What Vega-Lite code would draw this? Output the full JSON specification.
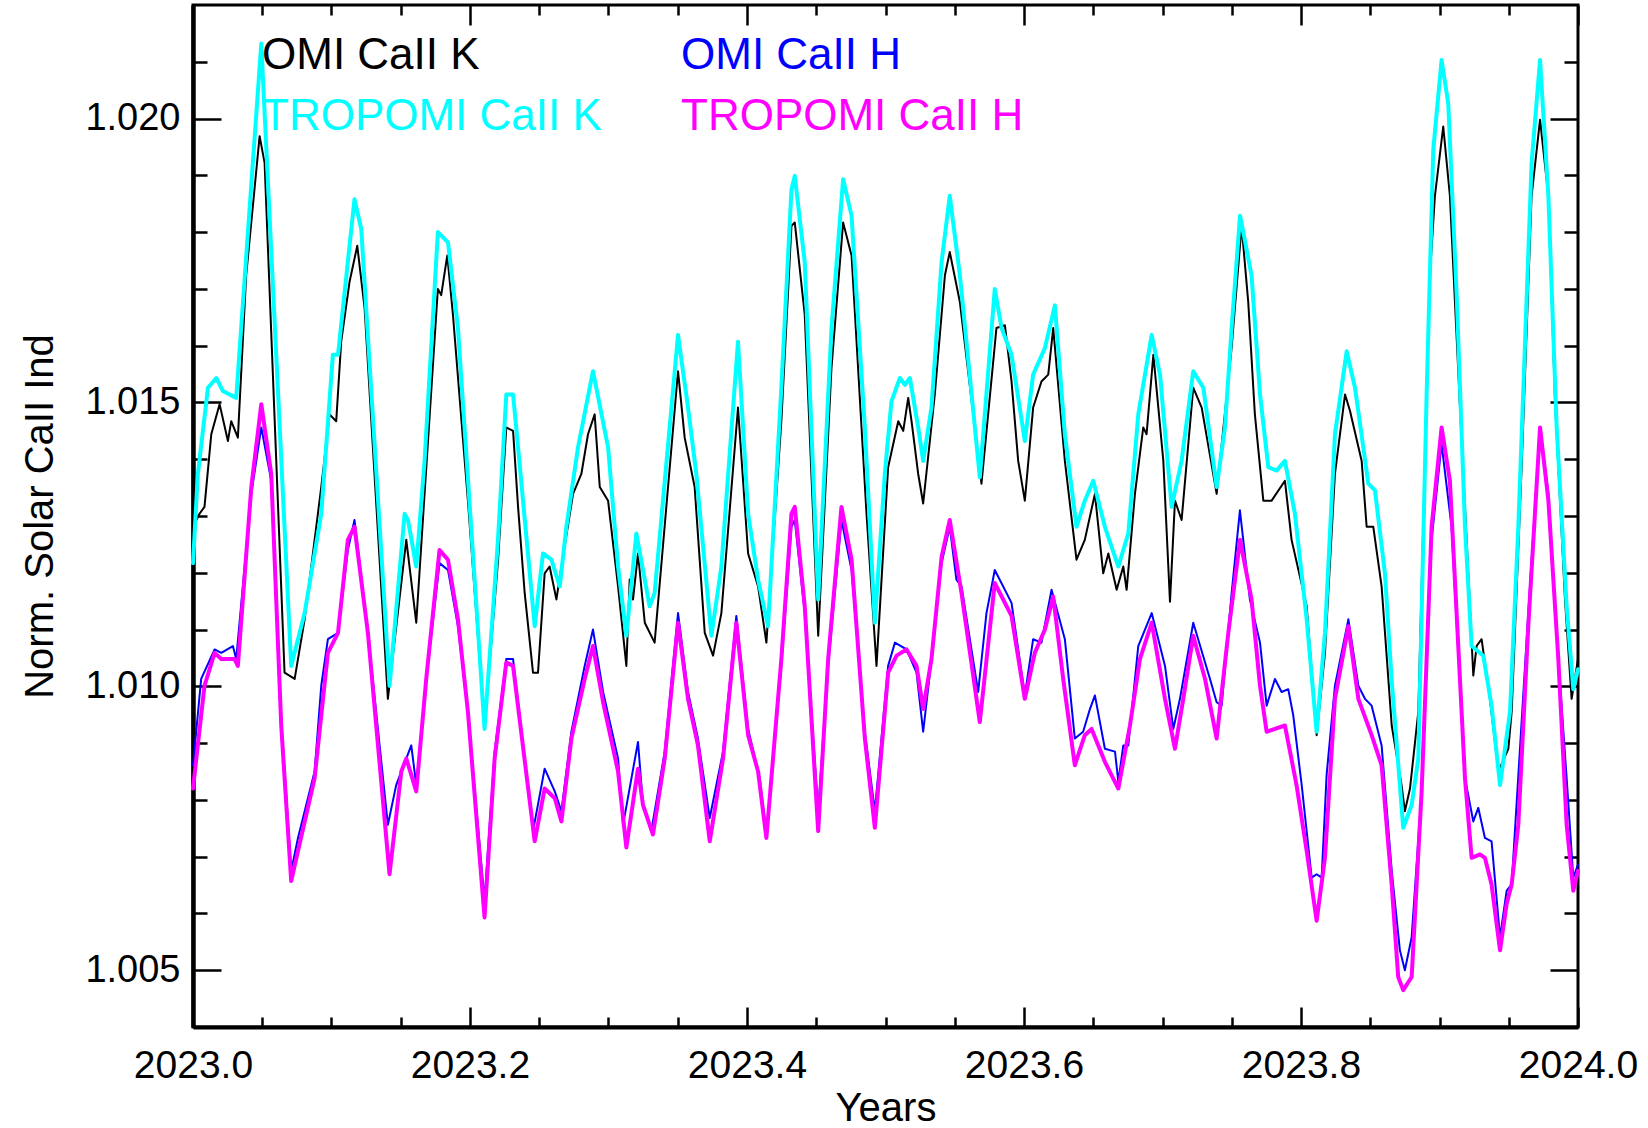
{
  "$schema": "https://vega.github.io/schema/vega-lite/v6.json",
  "autosize": "none",
  "width": 1385,
  "height": 1022,
  "padding": {"left": 193, "top": 5, "right": 70, "bottom": 101},
  "background": "white",
  "config": {
    "view": {"stroke": "black", "strokeWidth": 3},
    "axis": {"grid": false},
    "line": {"strokeJoin": "round", "strokeCap": "round"}
  },
  "datasets": {
    "cak": [
      {"series":"OMI CaII K","year":2023.0000,"value":1.01281},{"series":"OMI CaII K","year":2023.0047,"value":1.01304},{"series":"OMI CaII K","year":2023.0083,"value":1.01316},{"series":"OMI CaII K","year":2023.0132,"value":1.01444},{"series":"OMI CaII K","year":2023.0192,"value":1.01497},{"series":"OMI CaII K","year":2023.0252,"value":1.01432},{"series":"OMI CaII K","year":2023.0276,"value":1.01467},{"series":"OMI CaII K","year":2023.0324,"value":1.01438},{"series":"OMI CaII K","year":2023.0384,"value":1.01724},{"series":"OMI CaII K","year":2023.0481,"value":1.01969},{"series":"OMI CaII K","year":2023.0517,"value":1.01922},{"series":"OMI CaII K","year":2023.0661,"value":1.01024},{"series":"OMI CaII K","year":2023.0734,"value":1.01013},{"series":"OMI CaII K","year":2023.0806,"value":1.01118},{"series":"OMI CaII K","year":2023.0926,"value":1.01351},{"series":"OMI CaII K","year":2023.0986,"value":1.01479},{"series":"OMI CaII K","year":2023.1034,"value":1.01467},{"series":"OMI CaII K","year":2023.1070,"value":1.01607},{"series":"OMI CaII K","year":2023.1130,"value":1.01712},{"series":"OMI CaII K","year":2023.1186,"value":1.01776},{"series":"OMI CaII K","year":2023.1239,"value":1.01666},{"series":"OMI CaII K","year":2023.1407,"value":1.00978},{"series":"OMI CaII K","year":2023.1540,"value":1.01258},{"series":"OMI CaII K","year":2023.1612,"value":1.01112},{"series":"OMI CaII K","year":2023.1672,"value":1.01339},{"series":"OMI CaII K","year":2023.1768,"value":1.01700},{"series":"OMI CaII K","year":2023.1792,"value":1.01689},{"series":"OMI CaII K","year":2023.1836,"value":1.01759},{"series":"OMI CaII K","year":2023.1877,"value":1.01654},{"series":"OMI CaII K","year":2023.1985,"value":1.01327},{"series":"OMI CaII K","year":2023.2105,"value":1.00931},{"series":"OMI CaII K","year":2023.2202,"value":1.01220},{"series":"OMI CaII K","year":2023.2262,"value":1.01456},{"series":"OMI CaII K","year":2023.2311,"value":1.01450},{"series":"OMI CaII K","year":2023.2347,"value":1.01316},{"series":"OMI CaII K","year":2023.2395,"value":1.01164},{"series":"OMI CaII K","year":2023.2455,"value":1.01024},{"series":"OMI CaII K","year":2023.2491,"value":1.01024},{"series":"OMI CaII K","year":2023.2539,"value":1.01199},{"series":"OMI CaII K","year":2023.2575,"value":1.01211},{"series":"OMI CaII K","year":2023.2624,"value":1.01153},{"series":"OMI CaII K","year":2023.2660,"value":1.01211},{"series":"OMI CaII K","year":2023.2744,"value":1.01339},{"series":"OMI CaII K","year":2023.2804,"value":1.01374},{"series":"OMI CaII K","year":2023.2852,"value":1.01444},{"series":"OMI CaII K","year":2023.2900,"value":1.01479},{"series":"OMI CaII K","year":2023.2937,"value":1.01351},{"series":"OMI CaII K","year":2023.2997,"value":1.01327},{"series":"OMI CaII K","year":2023.3069,"value":1.01176},{"series":"OMI CaII K","year":2023.3129,"value":1.01036},{"series":"OMI CaII K","year":2023.3153,"value":1.01188},{"series":"OMI CaII K","year":2023.3177,"value":1.01153},{"series":"OMI CaII K","year":2023.3213,"value":1.01234},{"series":"OMI CaII K","year":2023.3262,"value":1.01112},{"series":"OMI CaII K","year":2023.3333,"value":1.01077},{"series":"OMI CaII K","year":2023.3502,"value":1.01555},{"series":"OMI CaII K","year":2023.3550,"value":1.01438},{"series":"OMI CaII K","year":2023.3622,"value":1.01351},{"series":"OMI CaII K","year":2023.3695,"value":1.01094},{"series":"OMI CaII K","year":2023.3755,"value":1.01054},{"series":"OMI CaII K","year":2023.3815,"value":1.01129},{"series":"OMI CaII K","year":2023.3935,"value":1.01491},{"series":"OMI CaII K","year":2023.4008,"value":1.01234},{"series":"OMI CaII K","year":2023.4080,"value":1.01176},{"series":"OMI CaII K","year":2023.4140,"value":1.01077},{"series":"OMI CaII K","year":2023.4248,"value":1.01467},{"series":"OMI CaII K","year":2023.4321,"value":1.01811},{"series":"OMI CaII K","year":2023.4345,"value":1.01817},{"series":"OMI CaII K","year":2023.4417,"value":1.01654},{"series":"OMI CaII K","year":2023.4514,"value":1.01089},{"series":"OMI CaII K","year":2023.4610,"value":1.01561},{"series":"OMI CaII K","year":2023.4694,"value":1.01817},{"series":"OMI CaII K","year":2023.4755,"value":1.01759},{"series":"OMI CaII K","year":2023.4863,"value":1.01304},{"series":"OMI CaII K","year":2023.4935,"value":1.01036},{"series":"OMI CaII K","year":2023.5019,"value":1.01386},{"series":"OMI CaII K","year":2023.5092,"value":1.01467},{"series":"OMI CaII K","year":2023.5128,"value":1.01450},{"series":"OMI CaII K","year":2023.5164,"value":1.01508},{"series":"OMI CaII K","year":2023.5188,"value":1.01467},{"series":"OMI CaII K","year":2023.5236,"value":1.01374},{"series":"OMI CaII K","year":2023.5272,"value":1.01322},{"series":"OMI CaII K","year":2023.5356,"value":1.01514},{"series":"OMI CaII K","year":2023.5429,"value":1.01724},{"series":"OMI CaII K","year":2023.5464,"value":1.01765},{"series":"OMI CaII K","year":2023.5537,"value":1.01677},{"series":"OMI CaII K","year":2023.5693,"value":1.01357},{"series":"OMI CaII K","year":2023.5801,"value":1.01631},{"series":"OMI CaII K","year":2023.5862,"value":1.01636},{"series":"OMI CaII K","year":2023.5910,"value":1.01537},{"series":"OMI CaII K","year":2023.5958,"value":1.01397},{"series":"OMI CaII K","year":2023.6006,"value":1.01327},{"series":"OMI CaII K","year":2023.6066,"value":1.01491},{"series":"OMI CaII K","year":2023.6126,"value":1.01537},{"series":"OMI CaII K","year":2023.6175,"value":1.01549},{"series":"OMI CaII K","year":2023.6211,"value":1.01631},{"series":"OMI CaII K","year":2023.6295,"value":1.01397},{"series":"OMI CaII K","year":2023.6379,"value":1.01223},{"series":"OMI CaII K","year":2023.6439,"value":1.01258},{"series":"OMI CaII K","year":2023.6512,"value":1.01339},{"series":"OMI CaII K","year":2023.6572,"value":1.01199},{"series":"OMI CaII K","year":2023.6609,"value":1.01234},{"series":"OMI CaII K","year":2023.6669,"value":1.01170},{"series":"OMI CaII K","year":2023.6717,"value":1.01211},{"series":"OMI CaII K","year":2023.6741,"value":1.01170},{"series":"OMI CaII K","year":2023.6801,"value":1.01339},{"series":"OMI CaII K","year":2023.6861,"value":1.01456},{"series":"OMI CaII K","year":2023.6885,"value":1.01444},{"series":"OMI CaII K","year":2023.6934,"value":1.01584},{"series":"OMI CaII K","year":2023.7006,"value":1.01397},{"series":"OMI CaII K","year":2023.7054,"value":1.01149},{"series":"OMI CaII K","year":2023.7090,"value":1.01327},{"series":"OMI CaII K","year":2023.7138,"value":1.01293},{"series":"OMI CaII K","year":2023.7222,"value":1.01526},{"series":"OMI CaII K","year":2023.7283,"value":1.01491},{"series":"OMI CaII K","year":2023.7391,"value":1.01339},{"series":"OMI CaII K","year":2023.7499,"value":1.01596},{"series":"OMI CaII K","year":2023.7571,"value":1.01811},{"series":"OMI CaII K","year":2023.7619,"value":1.01677},{"series":"OMI CaII K","year":2023.7667,"value":1.01479},{"series":"OMI CaII K","year":2023.7728,"value":1.01327},{"series":"OMI CaII K","year":2023.7788,"value":1.01327},{"series":"OMI CaII K","year":2023.7884,"value":1.01362},{"series":"OMI CaII K","year":2023.7932,"value":1.01258},{"series":"OMI CaII K","year":2023.8041,"value":1.01141},{"series":"OMI CaII K","year":2023.8113,"value":1.00914},{"series":"OMI CaII K","year":2023.8173,"value":1.01059},{"series":"OMI CaII K","year":2023.8245,"value":1.01374},{"series":"OMI CaII K","year":2023.8318,"value":1.01514},{"series":"OMI CaII K","year":2023.8354,"value":1.01485},{"series":"OMI CaII K","year":2023.8438,"value":1.01397},{"series":"OMI CaII K","year":2023.8474,"value":1.01281},{"series":"OMI CaII K","year":2023.8522,"value":1.01281},{"series":"OMI CaII K","year":2023.8582,"value":1.01176},{"series":"OMI CaII K","year":2023.8655,"value":1.00931},{"series":"OMI CaII K","year":2023.8726,"value":1.00826},{"series":"OMI CaII K","year":2023.8750,"value":1.00780},{"series":"OMI CaII K","year":2023.8787,"value":1.00820},{"series":"OMI CaII K","year":2023.8847,"value":1.00955},{"series":"OMI CaII K","year":2023.8931,"value":1.01726},{"series":"OMI CaII K","year":2023.8967,"value":1.01864},{"series":"OMI CaII K","year":2023.9027,"value":1.01986},{"series":"OMI CaII K","year":2023.9075,"value":1.01864},{"series":"OMI CaII K","year":2023.9148,"value":1.01491},{"series":"OMI CaII K","year":2023.9208,"value":1.01199},{"series":"OMI CaII K","year":2023.9244,"value":1.01019},{"series":"OMI CaII K","year":2023.9268,"value":1.01071},{"series":"OMI CaII K","year":2023.9304,"value":1.01083},{"series":"OMI CaII K","year":2023.9364,"value":1.00978},{"series":"OMI CaII K","year":2023.9425,"value":1.00850},{"series":"OMI CaII K","year":2023.9497,"value":1.00890},{"series":"OMI CaII K","year":2023.9521,"value":1.00955},{"series":"OMI CaII K","year":2023.9593,"value":1.01386},{"series":"OMI CaII K","year":2023.9665,"value":1.01864},{"series":"OMI CaII K","year":2023.9726,"value":1.01998},{"series":"OMI CaII K","year":2023.9786,"value":1.01864},{"series":"OMI CaII K","year":2023.9834,"value":1.01503},{"series":"OMI CaII K","year":2023.9906,"value":1.01153},{"series":"OMI CaII K","year":2023.9954,"value":1.00978},{"series":"OMI CaII K","year":2024.0000,"value":1.01048},

      {"series":"TROPOMI CaII K","year":2023.0000,"value":1.01217},{"series":"TROPOMI CaII K","year":2023.0035,"value":1.01374},{"series":"TROPOMI CaII K","year":2023.0108,"value":1.01526},{"series":"TROPOMI CaII K","year":2023.0168,"value":1.01543},{"series":"TROPOMI CaII K","year":2023.0216,"value":1.01520},{"series":"TROPOMI CaII K","year":2023.0312,"value":1.01508},{"series":"TROPOMI CaII K","year":2023.0493,"value":1.02132},{"series":"TROPOMI CaII K","year":2023.0709,"value":1.01036},{"series":"TROPOMI CaII K","year":2023.0806,"value":1.01129},{"series":"TROPOMI CaII K","year":2023.0926,"value":1.01304},{"series":"TROPOMI CaII K","year":2023.1010,"value":1.01584},{"series":"TROPOMI CaII K","year":2023.1047,"value":1.01584},{"series":"TROPOMI CaII K","year":2023.1166,"value":1.01858},{"series":"TROPOMI CaII K","year":2023.1215,"value":1.01805},{"series":"TROPOMI CaII K","year":2023.1419,"value":1.01001},{"series":"TROPOMI CaII K","year":2023.1528,"value":1.01304},{"series":"TROPOMI CaII K","year":2023.1552,"value":1.01293},{"series":"TROPOMI CaII K","year":2023.1612,"value":1.01211},{"series":"TROPOMI CaII K","year":2023.1672,"value":1.01397},{"series":"TROPOMI CaII K","year":2023.1768,"value":1.01800},{"series":"TROPOMI CaII K","year":2023.1841,"value":1.01782},{"series":"TROPOMI CaII K","year":2023.1913,"value":1.01631},{"series":"TROPOMI CaII K","year":2023.2105,"value":1.00925},{"series":"TROPOMI CaII K","year":2023.2202,"value":1.01258},{"series":"TROPOMI CaII K","year":2023.2262,"value":1.01514},{"series":"TROPOMI CaII K","year":2023.2311,"value":1.01514},{"series":"TROPOMI CaII K","year":2023.2347,"value":1.01421},{"series":"TROPOMI CaII K","year":2023.2467,"value":1.01106},{"series":"TROPOMI CaII K","year":2023.2527,"value":1.01234},{"series":"TROPOMI CaII K","year":2023.2588,"value":1.01223},{"series":"TROPOMI CaII K","year":2023.2648,"value":1.01176},{"series":"TROPOMI CaII K","year":2023.2696,"value":1.01281},{"series":"TROPOMI CaII K","year":2023.2780,"value":1.01421},{"series":"TROPOMI CaII K","year":2023.2888,"value":1.01555},{"series":"TROPOMI CaII K","year":2023.2997,"value":1.01421},{"series":"TROPOMI CaII K","year":2023.3069,"value":1.01211},{"series":"TROPOMI CaII K","year":2023.3129,"value":1.01089},{"series":"TROPOMI CaII K","year":2023.3201,"value":1.01269},{"series":"TROPOMI CaII K","year":2023.3297,"value":1.01141},{"series":"TROPOMI CaII K","year":2023.3333,"value":1.01164},{"series":"TROPOMI CaII K","year":2023.3502,"value":1.01619},{"series":"TROPOMI CaII K","year":2023.3574,"value":1.01491},{"series":"TROPOMI CaII K","year":2023.3634,"value":1.01374},{"series":"TROPOMI CaII K","year":2023.3743,"value":1.01089},{"series":"TROPOMI CaII K","year":2023.3815,"value":1.01211},{"series":"TROPOMI CaII K","year":2023.3935,"value":1.01607},{"series":"TROPOMI CaII K","year":2023.4008,"value":1.01304},{"series":"TROPOMI CaII K","year":2023.4080,"value":1.01188},{"series":"TROPOMI CaII K","year":2023.4152,"value":1.01106},{"series":"TROPOMI CaII K","year":2023.4248,"value":1.01526},{"series":"TROPOMI CaII K","year":2023.4321,"value":1.01875},{"series":"TROPOMI CaII K","year":2023.4345,"value":1.01899},{"series":"TROPOMI CaII K","year":2023.4417,"value":1.01747},{"series":"TROPOMI CaII K","year":2023.4514,"value":1.01153},{"series":"TROPOMI CaII K","year":2023.4610,"value":1.01631},{"series":"TROPOMI CaII K","year":2023.4694,"value":1.01893},{"series":"TROPOMI CaII K","year":2023.4755,"value":1.01829},{"series":"TROPOMI CaII K","year":2023.4851,"value":1.01456},{"series":"TROPOMI CaII K","year":2023.4923,"value":1.01112},{"series":"TROPOMI CaII K","year":2023.4995,"value":1.01374},{"series":"TROPOMI CaII K","year":2023.5043,"value":1.01502},{"series":"TROPOMI CaII K","year":2023.5104,"value":1.01543},{"series":"TROPOMI CaII K","year":2023.5140,"value":1.01531},{"series":"TROPOMI CaII K","year":2023.5176,"value":1.01543},{"series":"TROPOMI CaII K","year":2023.5236,"value":1.01456},{"series":"TROPOMI CaII K","year":2023.5272,"value":1.01397},{"series":"TROPOMI CaII K","year":2023.5332,"value":1.01491},{"series":"TROPOMI CaII K","year":2023.5405,"value":1.01747},{"series":"TROPOMI CaII K","year":2023.5464,"value":1.01864},{"series":"TROPOMI CaII K","year":2023.5537,"value":1.01724},{"series":"TROPOMI CaII K","year":2023.5681,"value":1.01368},{"series":"TROPOMI CaII K","year":2023.5789,"value":1.01700},{"series":"TROPOMI CaII K","year":2023.5838,"value":1.01631},{"series":"TROPOMI CaII K","year":2023.5910,"value":1.01584},{"series":"TROPOMI CaII K","year":2023.6006,"value":1.01432},{"series":"TROPOMI CaII K","year":2023.6066,"value":1.01549},{"series":"TROPOMI CaII K","year":2023.6151,"value":1.01596},{"series":"TROPOMI CaII K","year":2023.6223,"value":1.01671},{"series":"TROPOMI CaII K","year":2023.6295,"value":1.01444},{"series":"TROPOMI CaII K","year":2023.6379,"value":1.01281},{"series":"TROPOMI CaII K","year":2023.6439,"value":1.01327},{"series":"TROPOMI CaII K","year":2023.6500,"value":1.01362},{"series":"TROPOMI CaII K","year":2023.6584,"value":1.01281},{"series":"TROPOMI CaII K","year":2023.6681,"value":1.01211},{"series":"TROPOMI CaII K","year":2023.6753,"value":1.01269},{"series":"TROPOMI CaII K","year":2023.6825,"value":1.01479},{"series":"TROPOMI CaII K","year":2023.6922,"value":1.01619},{"series":"TROPOMI CaII K","year":2023.6982,"value":1.01549},{"series":"TROPOMI CaII K","year":2023.7066,"value":1.01316},{"series":"TROPOMI CaII K","year":2023.7138,"value":1.01397},{"series":"TROPOMI CaII K","year":2023.7222,"value":1.01555},{"series":"TROPOMI CaII K","year":2023.7295,"value":1.01526},{"series":"TROPOMI CaII K","year":2023.7391,"value":1.01351},{"series":"TROPOMI CaII K","year":2023.7451,"value":1.01456},{"series":"TROPOMI CaII K","year":2023.7499,"value":1.01631},{"series":"TROPOMI CaII K","year":2023.7560,"value":1.01829},{"series":"TROPOMI CaII K","year":2023.7643,"value":1.01724},{"series":"TROPOMI CaII K","year":2023.7704,"value":1.01514},{"series":"TROPOMI CaII K","year":2023.7764,"value":1.01386},{"series":"TROPOMI CaII K","year":2023.7824,"value":1.01380},{"series":"TROPOMI CaII K","year":2023.7884,"value":1.01397},{"series":"TROPOMI CaII K","year":2023.7956,"value":1.01304},{"series":"TROPOMI CaII K","year":2023.8041,"value":1.01118},{"series":"TROPOMI CaII K","year":2023.8113,"value":1.00920},{"series":"TROPOMI CaII K","year":2023.8173,"value":1.01094},{"series":"TROPOMI CaII K","year":2023.8245,"value":1.01444},{"series":"TROPOMI CaII K","year":2023.8330,"value":1.01590},{"series":"TROPOMI CaII K","year":2023.8390,"value":1.01526},{"series":"TROPOMI CaII K","year":2023.8486,"value":1.01357},{"series":"TROPOMI CaII K","year":2023.8534,"value":1.01345},{"series":"TROPOMI CaII K","year":2023.8606,"value":1.01199},{"series":"TROPOMI CaII K","year":2023.8654,"value":1.01013},{"series":"TROPOMI CaII K","year":2023.8738,"value":1.00751},{"series":"TROPOMI CaII K","year":2023.8799,"value":1.00791},{"series":"TROPOMI CaII K","year":2023.8847,"value":1.00873},{"series":"TROPOMI CaII K","year":2023.8907,"value":1.01514},{"series":"TROPOMI CaII K","year":2023.8955,"value":1.01945},{"series":"TROPOMI CaII K","year":2023.9015,"value":1.02103},{"series":"TROPOMI CaII K","year":2023.9063,"value":1.02027},{"series":"TROPOMI CaII K","year":2023.9124,"value":1.01689},{"series":"TROPOMI CaII K","year":2023.9184,"value":1.01281},{"series":"TROPOMI CaII K","year":2023.9232,"value":1.01071},{"series":"TROPOMI CaII K","year":2023.9316,"value":1.01054},{"series":"TROPOMI CaII K","year":2023.9376,"value":1.00966},{"series":"TROPOMI CaII K","year":2023.9437,"value":1.00826},{"series":"TROPOMI CaII K","year":2023.9509,"value":1.00955},{"series":"TROPOMI CaII K","year":2023.9569,"value":1.01281},{"series":"TROPOMI CaII K","year":2023.9665,"value":1.01922},{"series":"TROPOMI CaII K","year":2023.9726,"value":1.02103},{"series":"TROPOMI CaII K","year":2023.9786,"value":1.01864},{"series":"TROPOMI CaII K","year":2023.9846,"value":1.01456},{"series":"TROPOMI CaII K","year":2023.9918,"value":1.01141},{"series":"TROPOMI CaII K","year":2023.9966,"value":1.00995},{"series":"TROPOMI CaII K","year":2024.0000,"value":1.01030},

      {"series":"OMI CaII H","year":2023.0000,"value":1.00861},{"series":"OMI CaII H","year":2023.0059,"value":1.01013},{"series":"OMI CaII H","year":2023.0156,"value":1.01065},{"series":"OMI CaII H","year":2023.0204,"value":1.01059},{"series":"OMI CaII H","year":2023.0288,"value":1.01071},{"series":"OMI CaII H","year":2023.0312,"value":1.01048},{"series":"OMI CaII H","year":2023.0421,"value":1.01339},{"series":"OMI CaII H","year":2023.0493,"value":1.01456},{"series":"OMI CaII H","year":2023.0565,"value":1.01362},{"series":"OMI CaII H","year":2023.0637,"value":1.00943},{"series":"OMI CaII H","year":2023.0709,"value":1.00675},{"series":"OMI CaII H","year":2023.0758,"value":1.00733},{"series":"OMI CaII H","year":2023.0878,"value":1.00850},{"series":"OMI CaII H","year":2023.0926,"value":1.01001},{"series":"OMI CaII H","year":2023.0974,"value":1.01083},{"series":"OMI CaII H","year":2023.1047,"value":1.01094},{"series":"OMI CaII H","year":2023.1118,"value":1.01240},{"series":"OMI CaII H","year":2023.1166,"value":1.01293},{"series":"OMI CaII H","year":2023.1263,"value":1.01094},{"series":"OMI CaII H","year":2023.1407,"value":1.00756},{"series":"OMI CaII H","year":2023.1467,"value":1.00826},{"series":"OMI CaII H","year":2023.1576,"value":1.00896},{"series":"OMI CaII H","year":2023.1612,"value":1.00826},{"series":"OMI CaII H","year":2023.1684,"value":1.01013},{"series":"OMI CaII H","year":2023.1780,"value":1.01217},{"series":"OMI CaII H","year":2023.1841,"value":1.01205},{"series":"OMI CaII H","year":2023.1913,"value":1.01106},{"series":"OMI CaII H","year":2023.1985,"value":1.00955},{"series":"OMI CaII H","year":2023.2105,"value":1.00622},{"series":"OMI CaII H","year":2023.2178,"value":1.00885},{"series":"OMI CaII H","year":2023.2262,"value":1.01048},{"series":"OMI CaII H","year":2023.2311,"value":1.01048},{"series":"OMI CaII H","year":2023.2455,"value":1.00745},{"series":"OMI CaII H","year":2023.2539,"value":1.00855},{"series":"OMI CaII H","year":2023.2612,"value":1.00815},{"series":"OMI CaII H","year":2023.2660,"value":1.00780},{"series":"OMI CaII H","year":2023.2732,"value":1.00920},{"series":"OMI CaII H","year":2023.2828,"value":1.01036},{"series":"OMI CaII H","year":2023.2888,"value":1.01100},{"series":"OMI CaII H","year":2023.2961,"value":1.00990},{"series":"OMI CaII H","year":2023.3069,"value":1.00873},{"series":"OMI CaII H","year":2023.3105,"value":1.00756},{"series":"OMI CaII H","year":2023.3213,"value":1.00902},{"series":"OMI CaII H","year":2023.3249,"value":1.00791},{"series":"OMI CaII H","year":2023.3309,"value":1.00745},{"series":"OMI CaII H","year":2023.3406,"value":1.00885},{"series":"OMI CaII H","year":2023.3502,"value":1.01129},{"series":"OMI CaII H","year":2023.3574,"value":1.00990},{"series":"OMI CaII H","year":2023.3646,"value":1.00908},{"series":"OMI CaII H","year":2023.3731,"value":1.00768},{"series":"OMI CaII H","year":2023.3827,"value":1.00885},{"series":"OMI CaII H","year":2023.3923,"value":1.01124},{"series":"OMI CaII H","year":2023.4008,"value":1.00925},{"series":"OMI CaII H","year":2023.4092,"value":1.00838},{"series":"OMI CaII H","year":2023.4140,"value":1.00739},{"series":"OMI CaII H","year":2023.4248,"value":1.01036},{"series":"OMI CaII H","year":2023.4321,"value":1.01281},{"series":"OMI CaII H","year":2023.4345,"value":1.01293},{"series":"OMI CaII H","year":2023.4417,"value":1.01130},{"series":"OMI CaII H","year":2023.4514,"value":1.00780},{"series":"OMI CaII H","year":2023.4586,"value":1.01036},{"series":"OMI CaII H","year":2023.4682,"value":1.01293},{"series":"OMI CaII H","year":2023.4755,"value":1.01205},{"series":"OMI CaII H","year":2023.4851,"value":1.00920},{"series":"OMI CaII H","year":2023.4923,"value":1.00780},{"series":"OMI CaII H","year":2023.5019,"value":1.01036},{"series":"OMI CaII H","year":2023.5068,"value":1.01077},{"series":"OMI CaII H","year":2023.5152,"value":1.01065},{"series":"OMI CaII H","year":2023.5224,"value":1.01024},{"series":"OMI CaII H","year":2023.5272,"value":1.00920},{"series":"OMI CaII H","year":2023.5332,"value":1.01048},{"series":"OMI CaII H","year":2023.5405,"value":1.01217},{"series":"OMI CaII H","year":2023.5464,"value":1.01281},{"series":"OMI CaII H","year":2023.5512,"value":1.01188},{"series":"OMI CaII H","year":2023.5549,"value":1.01176},{"series":"OMI CaII H","year":2023.5669,"value":1.00990},{"series":"OMI CaII H","year":2023.5729,"value":1.01129},{"series":"OMI CaII H","year":2023.5789,"value":1.01205},{"series":"OMI CaII H","year":2023.5910,"value":1.01147},{"series":"OMI CaII H","year":2023.6006,"value":1.00984},{"series":"OMI CaII H","year":2023.6066,"value":1.01083},{"series":"OMI CaII H","year":2023.6126,"value":1.01077},{"series":"OMI CaII H","year":2023.6199,"value":1.01170},{"series":"OMI CaII H","year":2023.6295,"value":1.01083},{"series":"OMI CaII H","year":2023.6367,"value":1.00908},{"series":"OMI CaII H","year":2023.6427,"value":1.00920},{"series":"OMI CaII H","year":2023.6476,"value":1.00960},{"series":"OMI CaII H","year":2023.6512,"value":1.00984},{"series":"OMI CaII H","year":2023.6584,"value":1.00890},{"series":"OMI CaII H","year":2023.6657,"value":1.00885},{"series":"OMI CaII H","year":2023.6681,"value":1.00832},{"series":"OMI CaII H","year":2023.6717,"value":1.00896},{"series":"OMI CaII H","year":2023.6753,"value":1.00896},{"series":"OMI CaII H","year":2023.6825,"value":1.01071},{"series":"OMI CaII H","year":2023.6922,"value":1.01129},{"series":"OMI CaII H","year":2023.7018,"value":1.01036},{"series":"OMI CaII H","year":2023.7078,"value":1.00925},{"series":"OMI CaII H","year":2023.7126,"value":1.00978},{"series":"OMI CaII H","year":2023.7222,"value":1.01112},{"series":"OMI CaII H","year":2023.7343,"value":1.01013},{"series":"OMI CaII H","year":2023.7391,"value":1.00972},{"series":"OMI CaII H","year":2023.7427,"value":1.00966},{"series":"OMI CaII H","year":2023.7499,"value":1.01164},{"series":"OMI CaII H","year":2023.7559,"value":1.01310},{"series":"OMI CaII H","year":2023.7631,"value":1.01153},{"series":"OMI CaII H","year":2023.7704,"value":1.01077},{"series":"OMI CaII H","year":2023.7752,"value":1.00966},{"series":"OMI CaII H","year":2023.7812,"value":1.01013},{"series":"OMI CaII H","year":2023.7860,"value":1.00990},{"series":"OMI CaII H","year":2023.7908,"value":1.00995},{"series":"OMI CaII H","year":2023.7944,"value":1.00949},{"series":"OMI CaII H","year":2023.8005,"value":1.00826},{"series":"OMI CaII H","year":2023.8077,"value":1.00663},{"series":"OMI CaII H","year":2023.8113,"value":1.00669},{"series":"OMI CaII H","year":2023.8149,"value":1.00663},{"series":"OMI CaII H","year":2023.8185,"value":1.00844},{"series":"OMI CaII H","year":2023.8245,"value":1.01001},{"series":"OMI CaII H","year":2023.8342,"value":1.01118},{"series":"OMI CaII H","year":2023.8414,"value":1.01001},{"series":"OMI CaII H","year":2023.8462,"value":1.00978},{"series":"OMI CaII H","year":2023.8510,"value":1.00966},{"series":"OMI CaII H","year":2023.8582,"value":1.00896},{"series":"OMI CaII H","year":2023.8655,"value":1.00675},{"series":"OMI CaII H","year":2023.8714,"value":1.00535},{"series":"OMI CaII H","year":2023.8750,"value":1.00500},{"series":"OMI CaII H","year":2023.8799,"value":1.00558},{"series":"OMI CaII H","year":2023.8871,"value":1.00815},{"series":"OMI CaII H","year":2023.8943,"value":1.01258},{"series":"OMI CaII H","year":2023.9015,"value":1.01427},{"series":"OMI CaII H","year":2023.9087,"value":1.01281},{"series":"OMI CaII H","year":2023.9184,"value":1.00838},{"series":"OMI CaII H","year":2023.9244,"value":1.00762},{"series":"OMI CaII H","year":2023.9280,"value":1.00786},{"series":"OMI CaII H","year":2023.9328,"value":1.00733},{"series":"OMI CaII H","year":2023.9376,"value":1.00727},{"series":"OMI CaII H","year":2023.9437,"value":1.00558},{"series":"OMI CaII H","year":2023.9485,"value":1.00640},{"series":"OMI CaII H","year":2023.9521,"value":1.00651},{"series":"OMI CaII H","year":2023.9641,"value":1.01129},{"series":"OMI CaII H","year":2023.9726,"value":1.01456},{"series":"OMI CaII H","year":2023.9786,"value":1.01340},{"series":"OMI CaII H","year":2023.9858,"value":1.01048},{"series":"OMI CaII H","year":2023.9918,"value":1.00838},{"series":"OMI CaII H","year":2023.9966,"value":1.00663},{"series":"OMI CaII H","year":2024.0000,"value":1.00686},

      {"series":"TROPOMI CaII H","year":2023.0000,"value":1.00820},{"series":"TROPOMI CaII H","year":2023.0083,"value":1.01001},{"series":"TROPOMI CaII H","year":2023.0156,"value":1.01059},{"series":"TROPOMI CaII H","year":2023.0204,"value":1.01048},{"series":"TROPOMI CaII H","year":2023.0300,"value":1.01048},{"series":"TROPOMI CaII H","year":2023.0324,"value":1.01036},{"series":"TROPOMI CaII H","year":2023.0421,"value":1.01351},{"series":"TROPOMI CaII H","year":2023.0493,"value":1.01497},{"series":"TROPOMI CaII H","year":2023.0565,"value":1.01374},{"series":"TROPOMI CaII H","year":2023.0637,"value":1.00931},{"series":"TROPOMI CaII H","year":2023.0709,"value":1.00657},{"series":"TROPOMI CaII H","year":2023.0758,"value":1.00710},{"series":"TROPOMI CaII H","year":2023.0878,"value":1.00838},{"series":"TROPOMI CaII H","year":2023.0974,"value":1.01059},{"series":"TROPOMI CaII H","year":2023.1047,"value":1.01094},{"series":"TROPOMI CaII H","year":2023.1118,"value":1.01258},{"series":"TROPOMI CaII H","year":2023.1166,"value":1.01281},{"series":"TROPOMI CaII H","year":2023.1263,"value":1.01094},{"series":"TROPOMI CaII H","year":2023.1419,"value":1.00669},{"series":"TROPOMI CaII H","year":2023.1504,"value":1.00850},{"series":"TROPOMI CaII H","year":2023.1540,"value":1.00873},{"series":"TROPOMI CaII H","year":2023.1612,"value":1.00815},{"series":"TROPOMI CaII H","year":2023.1684,"value":1.01013},{"series":"TROPOMI CaII H","year":2023.1780,"value":1.01240},{"series":"TROPOMI CaII H","year":2023.1841,"value":1.01223},{"series":"TROPOMI CaII H","year":2023.1913,"value":1.01118},{"series":"TROPOMI CaII H","year":2023.1985,"value":1.00955},{"series":"TROPOMI CaII H","year":2023.2105,"value":1.00593},{"series":"TROPOMI CaII H","year":2023.2178,"value":1.00873},{"series":"TROPOMI CaII H","year":2023.2262,"value":1.01042},{"series":"TROPOMI CaII H","year":2023.2311,"value":1.01036},{"series":"TROPOMI CaII H","year":2023.2467,"value":1.00727},{"series":"TROPOMI CaII H","year":2023.2539,"value":1.00820},{"series":"TROPOMI CaII H","year":2023.2612,"value":1.00803},{"series":"TROPOMI CaII H","year":2023.2660,"value":1.00762},{"series":"TROPOMI CaII H","year":2023.2732,"value":1.00908},{"series":"TROPOMI CaII H","year":2023.2828,"value":1.01013},{"series":"TROPOMI CaII H","year":2023.2888,"value":1.01071},{"series":"TROPOMI CaII H","year":2023.2961,"value":1.00972},{"series":"TROPOMI CaII H","year":2023.3069,"value":1.00850},{"series":"TROPOMI CaII H","year":2023.3129,"value":1.00716},{"series":"TROPOMI CaII H","year":2023.3213,"value":1.00855},{"series":"TROPOMI CaII H","year":2023.3249,"value":1.00791},{"series":"TROPOMI CaII H","year":2023.3321,"value":1.00739},{"series":"TROPOMI CaII H","year":2023.3406,"value":1.00873},{"series":"TROPOMI CaII H","year":2023.3502,"value":1.01112},{"series":"TROPOMI CaII H","year":2023.3574,"value":1.00978},{"series":"TROPOMI CaII H","year":2023.3646,"value":1.00896},{"series":"TROPOMI CaII H","year":2023.3731,"value":1.00727},{"series":"TROPOMI CaII H","year":2023.3827,"value":1.00873},{"series":"TROPOMI CaII H","year":2023.3923,"value":1.01112},{"series":"TROPOMI CaII H","year":2023.4008,"value":1.00914},{"series":"TROPOMI CaII H","year":2023.4080,"value":1.00850},{"series":"TROPOMI CaII H","year":2023.4140,"value":1.00733},{"series":"TROPOMI CaII H","year":2023.4248,"value":1.01048},{"series":"TROPOMI CaII H","year":2023.4321,"value":1.01304},{"series":"TROPOMI CaII H","year":2023.4345,"value":1.01316},{"series":"TROPOMI CaII H","year":2023.4417,"value":1.01141},{"series":"TROPOMI CaII H","year":2023.4514,"value":1.00745},{"series":"TROPOMI CaII H","year":2023.4586,"value":1.01048},{"series":"TROPOMI CaII H","year":2023.4682,"value":1.01316},{"series":"TROPOMI CaII H","year":2023.4755,"value":1.01223},{"series":"TROPOMI CaII H","year":2023.4851,"value":1.00908},{"series":"TROPOMI CaII H","year":2023.4923,"value":1.00751},{"series":"TROPOMI CaII H","year":2023.5019,"value":1.01024},{"series":"TROPOMI CaII H","year":2023.5080,"value":1.01054},{"series":"TROPOMI CaII H","year":2023.5152,"value":1.01065},{"series":"TROPOMI CaII H","year":2023.5224,"value":1.01036},{"series":"TROPOMI CaII H","year":2023.5272,"value":1.00960},{"series":"TROPOMI CaII H","year":2023.5332,"value":1.01048},{"series":"TROPOMI CaII H","year":2023.5405,"value":1.01228},{"series":"TROPOMI CaII H","year":2023.5464,"value":1.01293},{"series":"TROPOMI CaII H","year":2023.5549,"value":1.01164},{"series":"TROPOMI CaII H","year":2023.5681,"value":1.00937},{"series":"TROPOMI CaII H","year":2023.5789,"value":1.01182},{"series":"TROPOMI CaII H","year":2023.5910,"value":1.01124},{"series":"TROPOMI CaII H","year":2023.6006,"value":1.00978},{"series":"TROPOMI CaII H","year":2023.6078,"value":1.01059},{"series":"TROPOMI CaII H","year":2023.6151,"value":1.01100},{"series":"TROPOMI CaII H","year":2023.6211,"value":1.01158},{"series":"TROPOMI CaII H","year":2023.6283,"value":1.01013},{"series":"TROPOMI CaII H","year":2023.6367,"value":1.00861},{"series":"TROPOMI CaII H","year":2023.6439,"value":1.00914},{"series":"TROPOMI CaII H","year":2023.6488,"value":1.00925},{"series":"TROPOMI CaII H","year":2023.6584,"value":1.00867},{"series":"TROPOMI CaII H","year":2023.6681,"value":1.00820},{"series":"TROPOMI CaII H","year":2023.6765,"value":1.00931},{"series":"TROPOMI CaII H","year":2023.6837,"value":1.01048},{"series":"TROPOMI CaII H","year":2023.6922,"value":1.01112},{"series":"TROPOMI CaII H","year":2023.7018,"value":1.00978},{"series":"TROPOMI CaII H","year":2023.7090,"value":1.00890},{"series":"TROPOMI CaII H","year":2023.7150,"value":1.00978},{"series":"TROPOMI CaII H","year":2023.7222,"value":1.01089},{"series":"TROPOMI CaII H","year":2023.7307,"value":1.01013},{"series":"TROPOMI CaII H","year":2023.7391,"value":1.00908},{"series":"TROPOMI CaII H","year":2023.7475,"value":1.01094},{"series":"TROPOMI CaII H","year":2023.7560,"value":1.01258},{"series":"TROPOMI CaII H","year":2023.7643,"value":1.01153},{"series":"TROPOMI CaII H","year":2023.7704,"value":1.01001},{"series":"TROPOMI CaII H","year":2023.7752,"value":1.00920},{"series":"TROPOMI CaII H","year":2023.7812,"value":1.00925},{"series":"TROPOMI CaII H","year":2023.7884,"value":1.00931},{"series":"TROPOMI CaII H","year":2023.7968,"value":1.00826},{"series":"TROPOMI CaII H","year":2023.8041,"value":1.00710},{"series":"TROPOMI CaII H","year":2023.8113,"value":1.00587},{"series":"TROPOMI CaII H","year":2023.8173,"value":1.00698},{"series":"TROPOMI CaII H","year":2023.8245,"value":1.00978},{"series":"TROPOMI CaII H","year":2023.8342,"value":1.01106},{"series":"TROPOMI CaII H","year":2023.8414,"value":1.00978},{"series":"TROPOMI CaII H","year":2023.8510,"value":1.00914},{"series":"TROPOMI CaII H","year":2023.8582,"value":1.00861},{"series":"TROPOMI CaII H","year":2023.8655,"value":1.00650},{"series":"TROPOMI CaII H","year":2023.8702,"value":1.00488},{"series":"TROPOMI CaII H","year":2023.8738,"value":1.00465},{"series":"TROPOMI CaII H","year":2023.8799,"value":1.00488},{"series":"TROPOMI CaII H","year":2023.8871,"value":1.00815},{"series":"TROPOMI CaII H","year":2023.8943,"value":1.01281},{"series":"TROPOMI CaII H","year":2023.9015,"value":1.01456},{"series":"TROPOMI CaII H","year":2023.9075,"value":1.01362},{"series":"TROPOMI CaII H","year":2023.9184,"value":1.00838},{"series":"TROPOMI CaII H","year":2023.9232,"value":1.00698},{"series":"TROPOMI CaII H","year":2023.9292,"value":1.00704},{"series":"TROPOMI CaII H","year":2023.9328,"value":1.00698},{"series":"TROPOMI CaII H","year":2023.9376,"value":1.00651},{"series":"TROPOMI CaII H","year":2023.9437,"value":1.00535},{"series":"TROPOMI CaII H","year":2023.9485,"value":1.00617},{"series":"TROPOMI CaII H","year":2023.9521,"value":1.00651},{"series":"TROPOMI CaII H","year":2023.9569,"value":1.00756},{"series":"TROPOMI CaII H","year":2023.9641,"value":1.01106},{"series":"TROPOMI CaII H","year":2023.9726,"value":1.01456},{"series":"TROPOMI CaII H","year":2023.9786,"value":1.01328},{"series":"TROPOMI CaII H","year":2023.9858,"value":1.01048},{"series":"TROPOMI CaII H","year":2023.9918,"value":1.00756},{"series":"TROPOMI CaII H","year":2023.9966,"value":1.00640},{"series":"TROPOMI CaII H","year":2024.0000,"value":1.00675}
    ]
  },
  "data": {"name": "cak"},
  "encoding": {
    "color": {
      "field": "series",
      "type": "nominal",
      "scale": {
        "domain": ["OMI CaII K", "OMI CaII H", "TROPOMI CaII K", "TROPOMI CaII H"],
        "range": ["#000000", "#0000ff", "#00ffff", "#ff00ff"]
      },
      "legend": {
        "orient": "none",
        "legendX": 25,
        "legendY": 29,
        "columns": 2,
        "direction": "horizontal",
        "title": null,
        "padding": 0,
        "symbolSize": 0,
        "symbolStrokeWidth": 0,
        "symbolOpacity": 0,
        "labelOffset": 0,
        "labelFont": "Liberation Sans",
        "labelFontSize": 44,
        "labelLimit": 800,
        "labelColor": {"expr": "scale('color', datum.value)"},
        "columnPadding": 35,
        "rowPadding": 17
      }
    }
  },
  "resolve": {"axis": {"x": "independent", "y": "independent"}},
  "layer": [
    {
      "transform": [{"filter": "datum.series === 'OMI CaII K'"}],
      "mark": {"type": "line", "strokeWidth": 2},
      "encoding": {
        "x": {
          "field": "year", "type": "quantitative",
          "scale": {"domain": [2023, 2024], "nice": false, "zero": false},
          "axis": {
            "orient": "bottom", "values": [2023, 2023.2, 2023.4, 2023.6, 2023.8, 2024],
            "format": ".1f", "ticks": false, "domain": true, "domainColor": "black", "domainWidth": 4,
            "labelFont": "Liberation Sans", "labelFontSize": 39, "labelColor": "black",
            "labelPadding": 19, "labelFlush": false, "labelOverlap": false,
            "title": "Years", "titleFont": "Liberation Sans", "titleFontSize": 40,
            "titleFontWeight": "normal", "titleColor": "black", "titlePadding": 3
          }
        },
        "y": {
          "field": "value", "type": "quantitative",
          "scale": {"domain": [1.004, 1.022], "nice": false, "zero": false},
          "axis": {
            "orient": "left", "values": [1.005, 1.01, 1.015, 1.02],
            "format": ".3f", "ticks": false, "domain": true, "domainColor": "black", "domainWidth": 4.5,
            "labelFont": "Liberation Sans", "labelFontSize": 38, "labelColor": "black",
            "labelPadding": 13, "labelFlush": false, "labelOverlap": false,
            "title": "Norm. Solar CaII Ind", "titleFont": "Liberation Sans", "titleFontSize": 40,
            "titleFontWeight": "normal", "titleColor": "black", "titlePadding": 24
          }
        }
      }
    },
    {
      "transform": [{"filter": "datum.series === 'TROPOMI CaII K'"}],
      "mark": {"type": "line", "strokeWidth": 4},
      "encoding": {
        "x": {
          "field": "year", "type": "quantitative",
          "axis": {"orient": "bottom", "values": [2023, 2023.2, 2023.4, 2023.6, 2023.8, 2024],
            "labels": false, "domain": false, "title": null,
            "tickSize": -20, "tickWidth": 2.5, "tickColor": "black"}
        },
        "y": {
          "field": "value", "type": "quantitative",
          "axis": {"orient": "left", "values": [1.005, 1.01, 1.015, 1.02],
            "labels": false, "domain": false, "title": null,
            "tickSize": -28, "tickWidth": 2.5, "tickColor": "black"}
        }
      }
    },
    {
      "transform": [{"filter": "datum.series === 'OMI CaII H'"}],
      "mark": {"type": "line", "strokeWidth": 2},
      "encoding": {
        "x": {
          "field": "year", "type": "quantitative",
          "axis": {"orient": "bottom",
            "values": [2023.05, 2023.1, 2023.15, 2023.25, 2023.3, 2023.35, 2023.45, 2023.5, 2023.55, 2023.65, 2023.7, 2023.75, 2023.85, 2023.9, 2023.95],
            "labels": false, "domain": false, "title": null,
            "tickSize": -10, "tickWidth": 2.5, "tickColor": "black"}
        },
        "y": {
          "field": "value", "type": "quantitative",
          "axis": {"orient": "left",
            "values": [1.006, 1.007, 1.008, 1.009, 1.011, 1.012, 1.013, 1.014, 1.016, 1.017, 1.018, 1.019, 1.021],
            "labels": false, "domain": false, "title": null,
            "tickSize": -14, "tickWidth": 2.5, "tickColor": "black"}
        }
      }
    },
    {
      "transform": [{"filter": "datum.series === 'TROPOMI CaII H'"}],
      "mark": {"type": "line", "strokeWidth": 4},
      "encoding": {
        "x": {
          "field": "year", "type": "quantitative",
          "axis": {"orient": "top", "values": [2023, 2023.2, 2023.4, 2023.6, 2023.8, 2024],
            "labels": false, "domain": false, "title": null,
            "tickSize": -20, "tickWidth": 2.5, "tickColor": "black"}
        },
        "y": {
          "field": "value", "type": "quantitative",
          "axis": {"orient": "right", "values": [1.005, 1.01, 1.015, 1.02],
            "labels": false, "domain": false, "title": null,
            "tickSize": -28, "tickWidth": 2.5, "tickColor": "black"}
        }
      }
    },
    {
      "transform": [{"filter": "datum.series === 'OMI CaII K'"}],
      "mark": {"type": "line", "strokeWidth": 1, "opacity": 0},
      "encoding": {
        "x": {
          "field": "year", "type": "quantitative",
          "axis": {"orient": "top",
            "values": [2023.05, 2023.1, 2023.15, 2023.25, 2023.3, 2023.35, 2023.45, 2023.5, 2023.55, 2023.65, 2023.7, 2023.75, 2023.85, 2023.9, 2023.95],
            "labels": false, "domain": false, "title": null,
            "tickSize": -10, "tickWidth": 2.5, "tickColor": "black"}
        },
        "y": {
          "field": "value", "type": "quantitative",
          "axis": {"orient": "right",
            "values": [1.006, 1.007, 1.008, 1.009, 1.011, 1.012, 1.013, 1.014, 1.016, 1.017, 1.018, 1.019, 1.021],
            "labels": false, "domain": false, "title": null,
            "tickSize": -14, "tickWidth": 2.5, "tickColor": "black"}
        }
      }
    }
  ]
}
